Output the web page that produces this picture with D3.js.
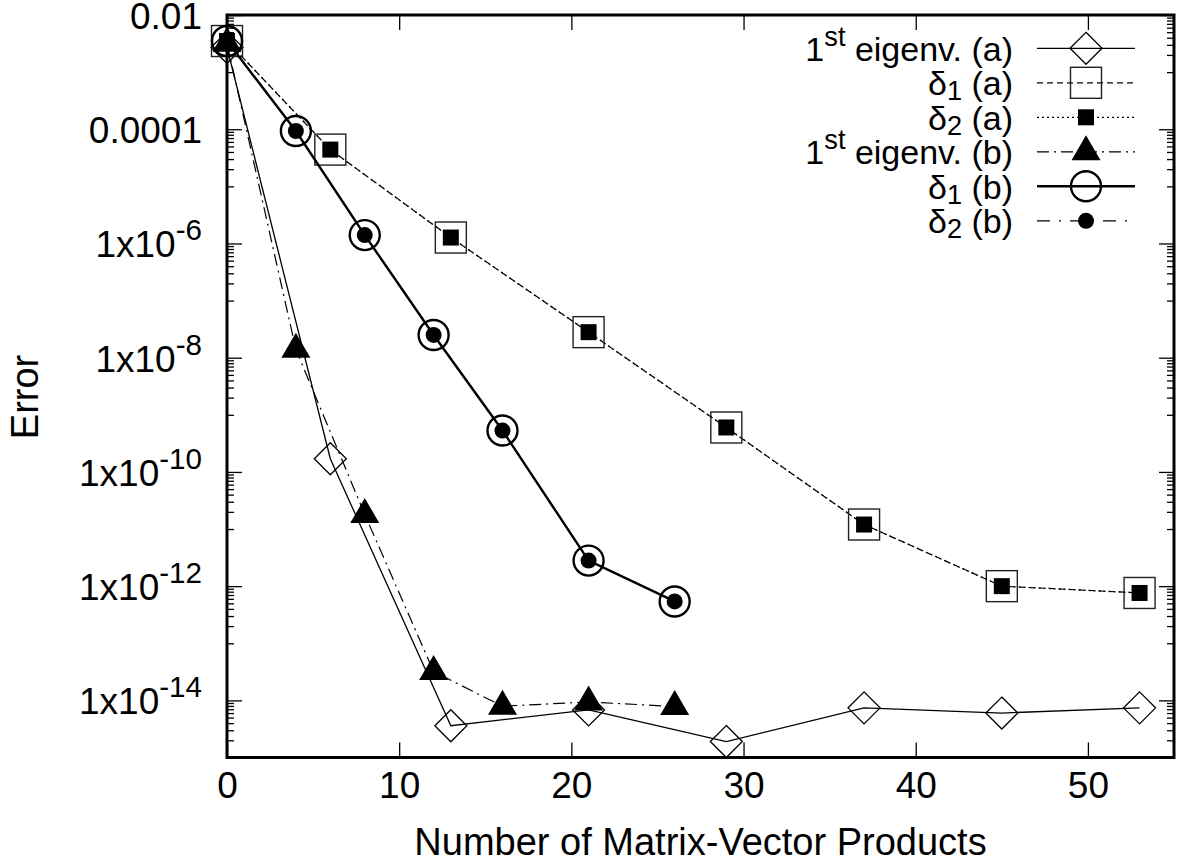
<!DOCTYPE html>
<html>
<head>
<meta charset="utf-8">
<script src="https://cdn.jsdelivr.net/npm/d3@7"></script>
<style>
  body { margin: 0; background: #fff; }
  svg text { font-family: "Liberation Sans", Arial, Helvetica, sans-serif; fill: #000; }
</style>
</head>
<body>
<svg id="chart" width="1178" height="867"></svg>
<script>
// data
const eigA_x = [0, 6, 13, 21, 29, 37, 45, 53];
const eigA_y = [2.7e-3, 1.7e-10, 3.6e-15, 6.8e-15, 1.9e-15, 7.4e-15, 6.0e-15, 7.4e-15];

const d1A_x = [0, 6, 13, 21, 29, 37, 45, 53];
const d1A_y = [3.5e-3, 4.4e-5, 1.27e-6, 2.8e-8, 6.0e-10, 1.2e-11, 1.0e-12, 7.6e-13];

const d2A_x = [0, 6, 13, 21, 29, 37, 45, 53];
const d2A_y = [3.5e-3, 4.4e-5, 1.27e-6, 2.8e-8, 6.0e-10, 1.2e-11, 1.0e-12, 7.6e-13];

const eigB_x = [0, 4, 8, 12, 16, 21, 26];
const eigB_y = [3.2e-3, 1.4e-8, 1.8e-11, 3.2e-14, 7.9e-15, 9.4e-15, 7.8e-15];

const d1B_x = [0, 4, 8, 12, 16, 21, 26];
const d1B_y = [3.5e-3, 9.3e-5, 1.4e-6, 2.5e-8, 5.3e-10, 2.8e-12, 5.4e-13];

const d2B_x = [0, 4, 8, 12, 16, 21, 26];
const d2B_y = [3.5e-3, 9.3e-5, 1.4e-6, 2.5e-8, 5.3e-10, 2.8e-12, 5.4e-13];

const xTickValues = [0, 10, 20, 30, 40, 50];
const yTickValues = [1e-2, 1e-4, 1e-6, 1e-8, 1e-10, 1e-12, 1e-14];
const yTickLabels = ["0.01", "0.0001", "1x10^-6", "1x10^-8", "1x10^-10", "1x10^-12", "1x10^-14"];

const xTitle = "Number of Matrix-Vector Products";
const yTitle = "Error";

const PLOT = { left: 227, right: 1174, top: 15, bottom: 757.5 };
const TICK_FONT = 37;
const LEGEND_FONT = 34;

const svg = d3.select("#chart");

const x = d3.scaleLinear().domain([0, 55]).range([PLOT.left, PLOT.right]);
const y = d3.scaleLog().domain([1e-15, 1e-2]).range([PLOT.bottom, PLOT.top]);

// minor log ticks: k/10 of each labelled decade
const yMinor = [];
yTickValues.forEach(m => {
  for (let k = 1; k <= 9; k++) yMinor.push(m * k / 10);
});

const series = [
  { label: [["1"], ["st", "sup"], [" eigenv. (a)"]], xs: eigA_x, ys: eigA_y, dash: null, lw: 1.3, marker: "diamond" },
  { label: [["\u03b4"], ["1", "sub"], [" (a)"]], xs: d1A_x, ys: d1A_y, dash: "6,4", lw: 1.2, marker: "squareOpen" },
  { label: [["\u03b4"], ["2", "sub"], [" (a)"]], xs: d2A_x, ys: d2A_y, dash: "2,3", lw: 1.2, marker: "squareFilled" },
  { label: [["1"], ["st", "sup"], [" eigenv. (b)"]], xs: eigB_x, ys: eigB_y, dash: "12,5,2,5", lw: 1.2, marker: "triangle" },
  { label: [["\u03b4"], ["1", "sub"], [" (b)"]], xs: d1B_x, ys: d1B_y, dash: null, lw: 2.4, marker: "circleOpen" },
  { label: [["\u03b4"], ["2", "sub"], [" (b)"]], xs: d2B_x, ys: d2B_y, dash: "13,9,2,9", lw: 1.2, marker: "circleFilled" }
];

function drawMarker(g, type, cx, cy) {
  if (type === "diamond") {
    g.append("path")
      .attr("d", `M${cx},${cy - 16}L${cx + 16},${cy}L${cx},${cy + 16}L${cx - 16},${cy}Z`)
      .attr("fill", "none").attr("stroke", "#000").attr("stroke-width", 1.3);
  } else if (type === "squareOpen") {
    g.append("rect")
      .attr("x", cx - 15.5).attr("y", cy - 15.5).attr("width", 31).attr("height", 31)
      .attr("fill", "none").attr("stroke", "#222").attr("stroke-width", 1.4);
  } else if (type === "squareFilled") {
    g.append("rect")
      .attr("x", cx - 8).attr("y", cy - 8).attr("width", 16).attr("height", 16)
      .attr("fill", "#000");
  } else if (type === "triangle") {
    g.append("path")
      .attr("d", `M${cx},${cy - 16.5}L${cx + 14.5},${cy + 8.5}L${cx - 14.5},${cy + 8.5}Z`)
      .attr("fill", "#000");
  } else if (type === "circleOpen") {
    g.append("circle")
      .attr("cx", cx).attr("cy", cy).attr("r", 15)
      .attr("fill", "none").attr("stroke", "#000").attr("stroke-width", 2.4);
  } else if (type === "circleFilled") {
    g.append("circle")
      .attr("cx", cx).attr("cy", cy).attr("r", 8)
      .attr("fill", "#000");
  }
}

// rich text: parts like ["st","sup"]
function richText(sel, parts) {
  parts.forEach((p, i) => {
    const t = sel.append("tspan").text(p[0]);
    if (p[1] === "sup") t.attr("font-size", "0.8em").attr("dy", "-0.55em");
    if (p[1] === "sub") t.attr("font-size", "0.8em").attr("dy", "0.2em");
    const prev = parts[i - 1];
    if (p[1] === undefined && prev) {
      // back to baseline after a shifted part
      if (prev[1] === "sup") t.attr("dy", "0.44em");
      if (prev[1] === "sub") t.attr("dy", "-0.16em");
    }
  });
}

// axes
const gx = svg.append("g")
  .attr("transform", `translate(0,${PLOT.bottom})`)
  .call(d3.axisBottom(x).tickValues(xTickValues).tickSize(-15).tickPadding(14.5));
svg.append("g")
  .attr("transform", `translate(0,${PLOT.top})`)
  .call(d3.axisTop(x).tickValues(xTickValues).tickSize(-15).tickFormat(""));

const gy = svg.append("g")
  .attr("transform", `translate(${PLOT.left},0)`)
  .call(d3.axisLeft(y).tickValues(yTickValues).tickSize(-15).tickPadding(25).tickFormat(""));
svg.append("g")
  .attr("transform", `translate(${PLOT.left},0)`)
  .call(d3.axisLeft(y).tickValues(yMinor).tickSize(-7).tickFormat(""));
svg.append("g")
  .attr("transform", `translate(${PLOT.right},0)`)
  .call(d3.axisRight(y).tickValues(yTickValues).tickSize(-15).tickFormat(""));
svg.append("g")
  .attr("transform", `translate(${PLOT.right},0)`)
  .call(d3.axisRight(y).tickValues(yMinor).tickSize(-7).tickFormat(""));

svg.selectAll(".domain").remove();
svg.selectAll(".tick line").attr("stroke", "#000").attr("stroke-width", 1.3);

gx.selectAll("text").attr("font-size", TICK_FONT).attr("font-family", null).attr("fill", "#000");

gy.selectAll(".tick text").each(function (d, i) {
  const t = d3.select(this)
    .attr("font-size", TICK_FONT).attr("font-family", null).attr("fill", "#000")
    .attr("dy", "0.36em");
  const lab = yTickLabels[i].split("^");
  t.append("tspan").text(lab[0]);
  if (lab[1]) t.append("tspan").attr("font-size", "0.8em").attr("dy", "-0.57em").text(lab[1]);
});

// curves
const line = d3.line().x(d => x(d[0])).y(d => y(d[1]));
const plotG = svg.append("g");
series.forEach(s => {
  const pts = s.xs.map((v, i) => [v, s.ys[i]]);
  plotG.append("path")
    .datum(pts)
    .attr("d", line)
    .attr("fill", "none")
    .attr("stroke", "#000")
    .attr("stroke-width", s.lw)
    .attr("stroke-dasharray", s.dash);
  const mg = plotG.append("g");
  pts.forEach(p => drawMarker(mg, s.marker, x(p[0]), y(p[1])));
});

// legend
const legend = svg.append("g");
series.forEach((s, i) => {
  const ly = 48.3 + i * 34.5;
  const t = legend.append("text")
    .attr("x", 1013).attr("y", ly + 0.36 * LEGEND_FONT)
    .attr("text-anchor", "end")
    .attr("font-size", LEGEND_FONT);
  richText(t, s.label);
  legend.append("line")
    .attr("x1", 1037).attr("x2", 1135).attr("y1", ly).attr("y2", ly)
    .attr("stroke", "#000").attr("stroke-width", s.lw)
    .attr("stroke-dasharray", s.dash);
  drawMarker(legend, s.marker, 1086, ly);
});

// border
svg.append("rect")
  .attr("x", PLOT.left).attr("y", PLOT.top)
  .attr("width", PLOT.right - PLOT.left).attr("height", PLOT.bottom - PLOT.top)
  .attr("fill", "none").attr("stroke", "#000").attr("stroke-width", 3);

// axis titles
svg.append("text")
  .attr("x", (PLOT.left + PLOT.right) / 2).attr("y", 855)
  .attr("text-anchor", "middle").attr("font-size", 38)
  .text(xTitle);
svg.append("text")
  .attr("transform", `translate(38,397) rotate(-90)`)
  .attr("text-anchor", "middle").attr("font-size", 38)
  .text(yTitle);
</script>
</body>
</html>
